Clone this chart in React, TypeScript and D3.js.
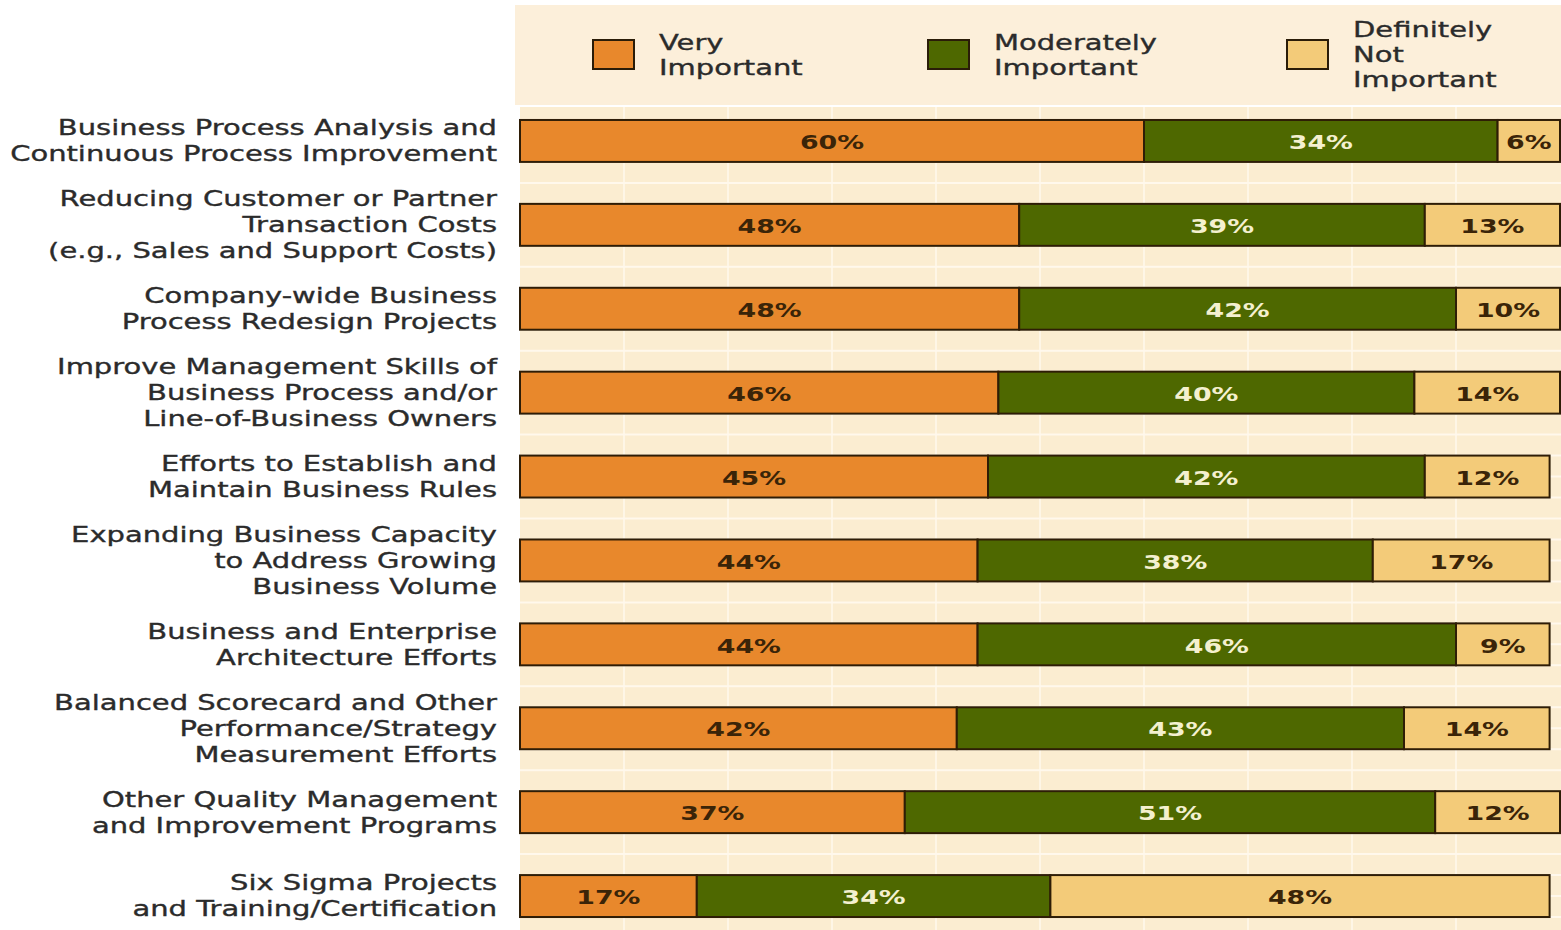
import React from "react";
import * as d3 from "d3";

const categories: string[][] = [
  ["Business Process Analysis and", "Continuous Process Improvement"],
  ["Reducing Customer or Partner", "Transaction Costs", "(e.g., Sales and Support Costs)"],
  ["Company-wide Business", "Process Redesign Projects"],
  ["Improve Management Skills of", "Business Process and/or", "Line-of-Business Owners"],
  ["Efforts to Establish and", "Maintain Business Rules"],
  ["Expanding Business Capacity", "to Address Growing", "Business Volume"],
  ["Business and Enterprise", "Architecture Efforts"],
  ["Balanced Scorecard and Other", "Performance/Strategy", "Measurement Efforts"],
  ["Other Quality Management", "and Improvement Programs"],
  ["Six Sigma Projects", "and Training/Certification"],
];

const veryImportant = [60, 48, 48, 46, 45, 44, 44, 42, 37, 17];
const moderatelyImportant = [34, 39, 42, 40, 42, 38, 46, 43, 51, 34];
const notImportant = [6, 13, 10, 14, 12, 17, 9, 14, 12, 48];

const seriesNames: string[][] = [
  ["Very", "Important"],
  ["Moderately", "Important"],
  ["Definitely", "Not", "Important"],
];
const seriesColors = ["#E8882C", "#4E6800", "#F3CB79"];
const seriesTextColors = ["#3a2408", "#F4F0CF", "#3a2408"];

const gridTicks = [10, 20, 30, 40, 50, 60, 70, 80, 90];

const W = 1561;
const H = 930;
const SX = 1.38;
const SXB = 1.34;
const FONT = "'DejaVu Sans', Verdana, sans-serif";

export default function App() {
  const x = d3.scaleLinear().domain([0, 100]).range([520, 1560]);
  const ids = categories.map((_, i) => String(i));
  const y = d3.scaleBand<string>().domain(ids).range([99, 938]).paddingInner(0.5).paddingOuter(0.25);
  const bw = y.bandwidth();
  const step = y.step();

  const rows = categories.map((_, i) => ({
    id: String(i),
    v: [veryImportant[i], moderatelyImportant[i], notImportant[i]],
  }));

  const hLines: number[] = [];
  const y0 = y("0")!;
  for (let k = -1; k < 60; k++) {
    const yy = y0 + (k * step) / 4;
    if (yy > 107 && yy < H) hLines.push(yy);
  }

  const legendX = [593, 928, 1287];

  return (
    <div style={{ position: "fixed", left: 0, top: 0 }}>
      <svg width={W} height={H} style={{ display: "block", background: "#fff" }}>
        <rect x={515} y={5} width={W - 515} height={100} fill="#FCEFDA" />
        <rect x={520} y={107} width={W - 520} height={H - 107} fill="#FBEDD1" />
        {hLines.map((yy, i) => (
          <line key={"h" + i} x1={520} x2={W} y1={yy} y2={yy} stroke="#FFF8EC" strokeWidth={2} />
        ))}
        {gridTicks.map((t) => (
          <line key={"v" + t} x1={x(t)} x2={x(t)} y1={107} y2={H} stroke="#FFF8EC" strokeWidth={1.5} />
        ))}

        {seriesNames.map((lines, s) => {
          const lx = legendX[s];
          const n = lines.length;
          return (
            <g key={"lg" + s}>
              <rect x={lx} y={40} width={41} height={29} fill={seriesColors[s]} stroke="#2a1c08" strokeWidth={2} />
              {lines.map((ln, j) => (
                <g key={j} transform={`translate(${lx + 66},${55 + (j - (n - 1) / 2) * 25}) scale(${SX},1)`}>
                  <text x={0} y={0} dy="0.35em" fontFamily={FONT} fontSize={21} fill="#2b2b2b" stroke="#2b2b2b" strokeWidth={0.35}>
                    {ln}
                  </text>
                </g>
              ))}
            </g>
          );
        })}

        {categories.map((lines, i) => {
          const cy = y(String(i))! + bw / 2;
          const n = lines.length;
          return (
            <g key={"c" + i}>
              {lines.map((ln, j) => (
                <g key={j} transform={`translate(497,${cy + (j - (n - 1) / 2) * 26}) scale(${SX},1)`}>
                  <text x={0} y={0} dy="0.35em" textAnchor="end" fontFamily={FONT} fontSize={21} fill="#2b2b2b" stroke="#2b2b2b" strokeWidth={0.35}>
                    {ln}
                  </text>
                </g>
              ))}
            </g>
          );
        })}

        {rows.map((r) => {
          let acc = 0;
          const top = y(r.id)!;
          return (
            <g key={"b" + r.id}>
              {r.v.map((val, s) => {
                const a = acc;
                acc += val;
                const xa = x(a);
                const xb = x(acc);
                return (
                  <g key={s}>
                    <rect x={xa} y={top} width={xb - xa} height={bw} fill={seriesColors[s]} stroke="#2e1d06" strokeWidth={2} />
                    <g transform={`translate(${(xa + xb) / 2},${top + bw / 2 + 1}) scale(${SXB},1)`}>
                      <text x={0} y={0} dy="0.36em" textAnchor="middle" fontFamily={FONT} fontWeight="bold" fontSize={20} fill={seriesTextColors[s]}>
                        {val + "%"}
                      </text>
                    </g>
                  </g>
                );
              })}
            </g>
          );
        })}
      </svg>
    </div>
  );
}
